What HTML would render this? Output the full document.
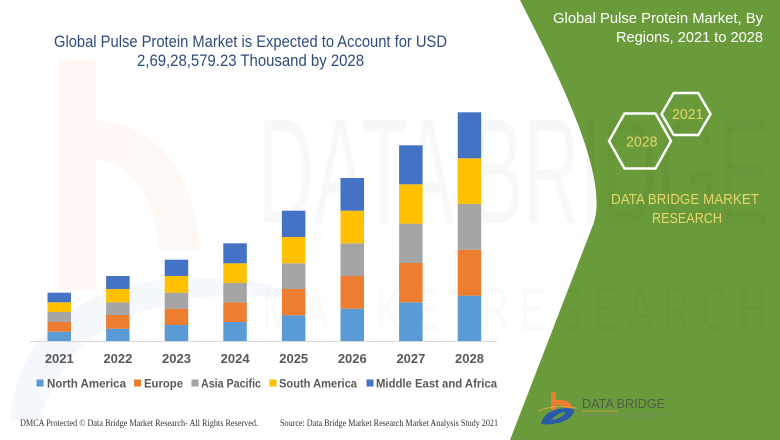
<!DOCTYPE html>
<html><head><meta charset="utf-8"><style>
html,body{margin:0;padding:0;background:#fff;}
svg{display:block;}
</style></head><body>
<svg width="780" height="440" viewBox="0 0 780 440" xmlns="http://www.w3.org/2000/svg">
<rect width="780" height="440" fill="#ffffff"/>
<!-- faint watermark b logo left -->
<g opacity="0.05">
<rect x="58" y="60" width="38" height="230" fill="#ED7D31"/>
<path d="M96,120 Q190,130 200,250 L160,250 Q150,165 96,160 Z" fill="#ED7D31"/>
<path d="M10,420 Q20,300 160,280 Q260,270 300,300 Q200,285 120,320 Q60,350 40,420 Z" fill="#4472C4"/>
</g>
<!-- green panel -->
<path d="M520,0 C550,60 612,175 593,225 L510,440 L780,440 L780,0 Z" fill="#6A9B3B"/>
<!-- faint big watermark text -->
<text x="258" y="223" font-family="Liberation Sans, sans-serif" font-size="150" fill="#000" fill-opacity="0.028" textLength="512" lengthAdjust="spacingAndGlyphs">DATA BRIDGE</text>
<text x="262" y="330" font-family="Liberation Sans, sans-serif" font-size="60" fill="#000" fill-opacity="0.02" textLength="505" lengthAdjust="spacingAndGlyphs">M A R K E T  R E S E A R C H</text>
<!-- Titles -->
<text x="54" y="47" font-family="Liberation Sans, sans-serif" font-size="16.5" fill="#2F4B7C" textLength="393" lengthAdjust="spacingAndGlyphs">Global Pulse Protein Market is Expected to Account for USD</text>
<text x="137" y="66" font-family="Liberation Sans, sans-serif" font-size="16.5" fill="#2F4B7C" textLength="227" lengthAdjust="spacingAndGlyphs">2,69,28,579.23 Thousand  by 2028</text>
<text x="553" y="23" font-family="Liberation Sans, sans-serif" font-size="15" fill="#ffffff" textLength="210" lengthAdjust="spacingAndGlyphs">Global Pulse Protein Market, By</text>
<text x="616" y="42" font-family="Liberation Sans, sans-serif" font-size="15" fill="#ffffff" textLength="147" lengthAdjust="spacingAndGlyphs">Regions, 2021 to 2028</text>
<!-- hexagons -->
<polygon points="661.5,114 673.75,93 698.25,93 710.5,114 698.25,135 673.75,135" fill="none" stroke="#ffffff" stroke-width="2.5"/>
<polygon points="609,141 624.5,113.5 655.5,113.5 671,141 655.5,168.5 624.5,168.5" fill="none" stroke="#ffffff" stroke-width="2.5"/>
<text x="672" y="119" font-family="Liberation Sans, sans-serif" font-size="14.5" fill="#E5D66B" textLength="31.5" lengthAdjust="spacingAndGlyphs">2021</text>
<text x="626" y="146.5" font-family="Liberation Sans, sans-serif" font-size="14.5" fill="#E5D66B" textLength="31.5" lengthAdjust="spacingAndGlyphs">2028</text>
<text x="611" y="204" font-family="Liberation Sans, sans-serif" font-size="15" fill="#E5D66B" textLength="148" lengthAdjust="spacingAndGlyphs">DATA BRIDGE MARKET</text>
<text x="652" y="223" font-family="Liberation Sans, sans-serif" font-size="15" fill="#E5D66B" textLength="70" lengthAdjust="spacingAndGlyphs">RESEARCH</text>
<!-- axis -->
<line x1="30" y1="341.5" x2="497" y2="341.5" stroke="#D9D9D9" stroke-width="1"/>
<!-- bars -->
<g>
<rect x="47.5" y="331.7" width="23.5" height="9.3" fill="#5B9BD5"/>
<rect x="47.5" y="322" width="23.5" height="9.7" fill="#ED7D31"/>
<rect x="47.5" y="312" width="23.5" height="10" fill="#A5A5A5"/>
<rect x="47.5" y="302.3" width="23.5" height="9.7" fill="#FFC000"/>
<rect x="47.5" y="292.7" width="23.5" height="9.6" fill="#4472C4"/>
<rect x="106.1" y="328.7" width="23.5" height="12.3" fill="#5B9BD5"/>
<rect x="106.1" y="315" width="23.5" height="13.7" fill="#ED7D31"/>
<rect x="106.1" y="302.3" width="23.5" height="12.7" fill="#A5A5A5"/>
<rect x="106.1" y="289" width="23.5" height="13.3" fill="#FFC000"/>
<rect x="106.1" y="276" width="23.5" height="13" fill="#4472C4"/>
<rect x="164.7" y="325" width="23.5" height="16" fill="#5B9BD5"/>
<rect x="164.7" y="308.7" width="23.5" height="16.3" fill="#ED7D31"/>
<rect x="164.7" y="292.7" width="23.5" height="16" fill="#A5A5A5"/>
<rect x="164.7" y="276" width="23.5" height="16.7" fill="#FFC000"/>
<rect x="164.7" y="259.7" width="23.5" height="16.3" fill="#4472C4"/>
<rect x="223.3" y="322" width="23.5" height="19" fill="#5B9BD5"/>
<rect x="223.3" y="302.3" width="23.5" height="19.7" fill="#ED7D31"/>
<rect x="223.3" y="283" width="23.5" height="19.3" fill="#A5A5A5"/>
<rect x="223.3" y="263.3" width="23.5" height="19.7" fill="#FFC000"/>
<rect x="223.3" y="243.3" width="23.5" height="20" fill="#4472C4"/>
<rect x="281.9" y="315.3" width="23.5" height="25.7" fill="#5B9BD5"/>
<rect x="281.9" y="289" width="23.5" height="26.3" fill="#ED7D31"/>
<rect x="281.9" y="263.3" width="23.5" height="25.7" fill="#A5A5A5"/>
<rect x="281.9" y="237" width="23.5" height="26.3" fill="#FFC000"/>
<rect x="281.9" y="210.7" width="23.5" height="26.3" fill="#4472C4"/>
<rect x="340.5" y="308.7" width="23.5" height="32.3" fill="#5B9BD5"/>
<rect x="340.5" y="276" width="23.5" height="32.7" fill="#ED7D31"/>
<rect x="340.5" y="243.3" width="23.5" height="32.7" fill="#A5A5A5"/>
<rect x="340.5" y="210.7" width="23.5" height="32.6" fill="#FFC000"/>
<rect x="340.5" y="178" width="23.5" height="32.7" fill="#4472C4"/>
<rect x="399.1" y="302.3" width="23.5" height="38.7" fill="#5B9BD5"/>
<rect x="399.1" y="263" width="23.5" height="39.3" fill="#ED7D31"/>
<rect x="399.1" y="223.7" width="23.5" height="39.3" fill="#A5A5A5"/>
<rect x="399.1" y="184.3" width="23.5" height="39.4" fill="#FFC000"/>
<rect x="399.1" y="145.3" width="23.5" height="39" fill="#4472C4"/>
<rect x="457.7" y="295.7" width="23.5" height="45.3" fill="#5B9BD5"/>
<rect x="457.7" y="249.7" width="23.5" height="46" fill="#ED7D31"/>
<rect x="457.7" y="204" width="23.5" height="45.7" fill="#A5A5A5"/>
<rect x="457.7" y="158.3" width="23.5" height="45.7" fill="#FFC000"/>
<rect x="457.7" y="112.3" width="23.5" height="46" fill="#4472C4"/>
</g>
<!-- year labels -->
<g font-family="Liberation Sans, sans-serif" font-size="13" font-weight="bold" fill="#595959" text-anchor="middle">
<text x="59.3" y="363">2021</text>
<text x="117.9" y="363">2022</text>
<text x="176.5" y="363">2023</text>
<text x="235.1" y="363">2024</text>
<text x="293.7" y="363">2025</text>
<text x="352.3" y="363">2026</text>
<text x="410.9" y="363">2027</text>
<text x="469.5" y="363">2028</text>
</g>
<!-- legend -->
<g font-family="Liberation Sans, sans-serif" font-size="12" font-weight="bold" fill="#595959">
<rect x="36.5" y="379.5" width="7" height="7" fill="#5B9BD5"/>
<text x="47" y="387.5" textLength="79" lengthAdjust="spacingAndGlyphs">North America</text>
<rect x="134" y="379.5" width="7" height="7" fill="#ED7D31"/>
<text x="144" y="387.5" textLength="39" lengthAdjust="spacingAndGlyphs">Europe</text>
<rect x="191.5" y="379.5" width="7" height="7" fill="#A5A5A5"/>
<text x="201" y="387.5" textLength="60" lengthAdjust="spacingAndGlyphs">Asia Pacific</text>
<rect x="269.5" y="379.5" width="7" height="7" fill="#FFC000"/>
<text x="279" y="387.5" textLength="78" lengthAdjust="spacingAndGlyphs">South America</text>
<rect x="366.5" y="379.5" width="7" height="7" fill="#4472C4"/>
<text x="376" y="387.5" textLength="121" lengthAdjust="spacingAndGlyphs">Middle East and Africa</text>
</g>
<!-- footer -->
<text x="20" y="426" font-family="Liberation Serif, serif" font-size="9.5" fill="#333" textLength="238" lengthAdjust="spacingAndGlyphs">DMCA Protected © Data Bridge Market Research- All Rights Reserved.</text>
<text x="280" y="426" font-family="Liberation Serif, serif" font-size="9.5" fill="#333" textLength="218" lengthAdjust="spacingAndGlyphs">Source: Data Bridge Market Research Market Analysis Study 2021</text>
<!-- bottom logo -->
<g>
<rect x="551" y="392" width="5" height="18" fill="#ED7D31"/>
<path d="M556,400 Q572,399 572,409 L566,409 Q565,404 556,405 Z" fill="#ED7D31"/>
<path d="M541,424 Q544,410 565,408 Q576,408 574,412 Q570,422 552,424 Q546,425 541,424 Z" fill="#2B5BA8"/>
<path d="M552,420 Q556,413 566,412 Q562,418 552,420 Z" fill="#6A9B3B"/>
<path d="M538,411 Q555,404 576,408" stroke="#E5A13A" stroke-width="1" fill="none"/>
<text x="582" y="408" font-family="Liberation Sans, sans-serif" font-size="13" fill="#4F5E45" textLength="83" lengthAdjust="spacingAndGlyphs">DATA BRIDGE</text>
<line x1="582" y1="411" x2="618" y2="411" stroke="#D8A040" stroke-width="0.8"/>
<text x="582" y="417" font-family="Liberation Sans, sans-serif" font-size="5" fill="#7A8A6A" textLength="83" lengthAdjust="spacingAndGlyphs">MARKET RESEARCH</text>
</g>
</svg>
</body></html>
